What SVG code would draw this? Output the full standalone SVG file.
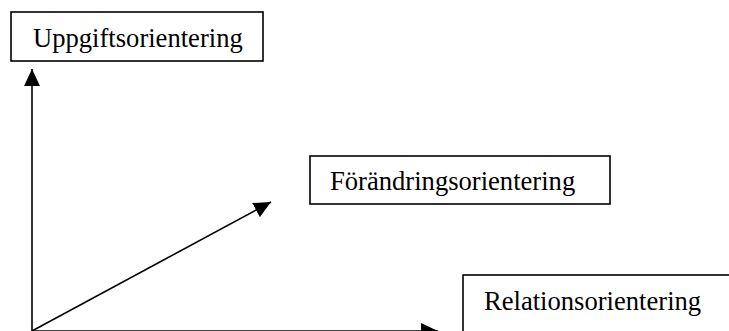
<svg xmlns="http://www.w3.org/2000/svg" width="729" height="331" viewBox="0 0 729 331">
  <defs>
    <style>
      .box { fill: #ffffff; stroke: #000000; stroke-width: 1.6; }
      .lbl { font-family: "Liberation Serif", "Times New Roman", serif; font-size: 26.6px; fill: #000000; }
      .conn { stroke: #000000; stroke-width: 1.6; fill: none; }
    </style>
    <marker id="arrow" markerUnits="userSpaceOnUse" markerWidth="18" markerHeight="16" refX="17" refY="8" orient="auto">
      <path d="M0,0 L17,8 L0,16 Z" fill="#000000"/>
    </marker>
  </defs>
  <rect width="729" height="331" fill="#ffffff"/>
  <g id="connectors">
    <line class="conn" x1="32" y1="331" x2="32" y2="69" marker-end="url(#arrow)"/>
    <line class="conn" x1="32" y1="331" x2="271" y2="202" marker-end="url(#arrow)"/>
    <line class="conn" x1="32" y1="331" x2="438" y2="331" marker-end="url(#arrow)"/>
  </g>
  <g id="uppgift">
    <rect class="box" x="11" y="12" width="252" height="49"/>
    <text class="lbl" x="33" y="47">Uppgiftsorientering</text>
  </g>
  <g id="forandring">
    <rect class="box" x="310" y="156" width="300" height="48"/>
    <text class="lbl" x="330" y="190">Förändringsorientering</text>
  </g>
  <g id="relation">
    <rect class="box" x="463" y="275" width="280" height="70"/>
    <text class="lbl" x="484" y="310">Relationsorientering</text>
  </g>
</svg>
